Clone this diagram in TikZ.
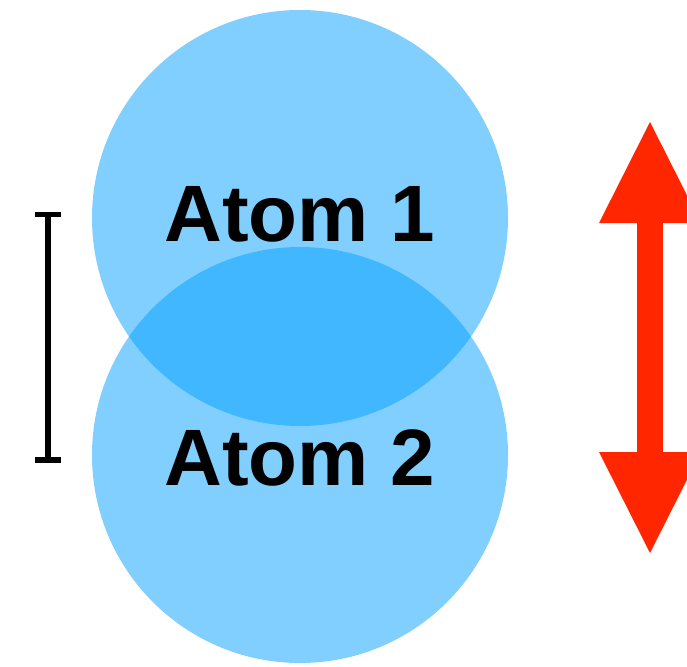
\documentclass[tikz,border=0pt]{standalone}
\usepackage{fontspec}
\setmainfont{Liberation Sans}
\usepackage{tikz}
\usetikzlibrary{arrows.meta,positioning}

\definecolor{atomblue}{RGB}{1,159,255}
\definecolor{stretchred}{RGB}{255,38,0}

\begin{document}
\begin{tikzpicture}[x=1pt, y=-1pt,
  atom/.style={circle, fill=atomblue, fill opacity=0.5, text opacity=1, minimum size=416pt, inner sep=0pt, text depth=0pt, font=\fontsize{80}{96}\selectfont\bfseries},
  bond/.style={{Bar[width=26pt]}-{Bar[width=26pt]}, line width=5.5pt, black},
  stretch/.style={{Triangle[width=102pt, length=101pt, line width=0pt]}-{Triangle[width=102pt, length=101pt, line width=0pt]}, line width=26pt, stretchred}
]
  \useasboundingbox (0,0) rectangle (687,666);

  % Atoms
  \node[atom, text height=46pt] (atom1) at (300, 218) {Atom 1};
  \node[atom, text height=60pt] (atom2) at (300, 455) {Atom 2};

  % Bond length
  \coordinate (bondtop) at (48, 211.5);
  \coordinate (bondbot) at (48, 462.5);
  \draw[bond] (bondtop) -- (bondbot);

  % Vibration
  \coordinate (stretchtop) at (650, 122);
  \coordinate (stretchbot) at (650, 553);
  \draw[stretch] (stretchtop) -- (stretchbot);
\end{tikzpicture}
\end{document}
